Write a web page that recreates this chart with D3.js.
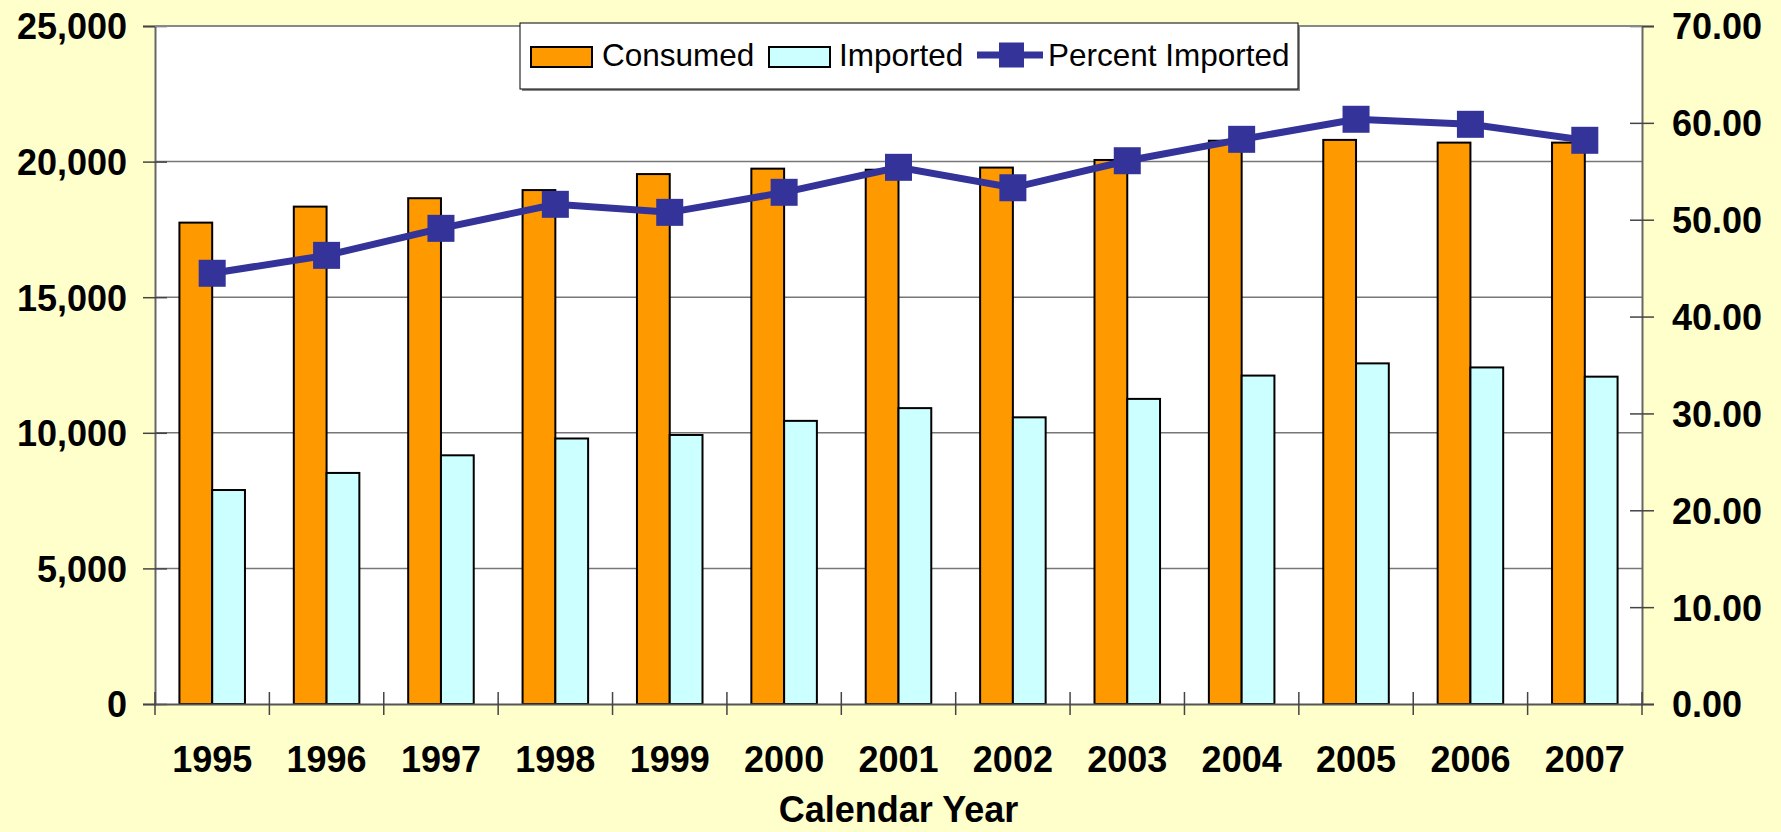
<!DOCTYPE html>
<html>
<head>
<meta charset="utf-8">
<script src="https://cdn.jsdelivr.net/npm/d3@7"></script>
<style>
  body { margin: 0; background: #FFFFCC; }
  svg { display: block; font-family: Arial, "Liberation Sans", sans-serif; }
</style>
</head>
<body>
<svg id="chart" width="1781" height="832"></svg>
<script>
// values
var years = ["1995", "1996", "1997", "1998", "1999", "2000", "2001", "2002", "2003", "2004", "2005", "2006", "2007"];
var consumed = [17750, 18340, 18650, 18950, 19540, 19740, 19700, 19780, 20060, 20770, 20800, 20700, 20700];
var imported = [7890, 8520, 9170, 9790, 9920, 10440, 10910, 10570, 11250, 12110, 12560, 12410, 12070];
var percentImported = [44.47, 46.32, 49.11, 51.59, 50.76, 52.83, 55.41, 53.30, 56.09, 58.30, 60.37, 59.85, 58.20];
var leftTicks = [0, 5000, 10000, 15000, 20000, 25000];
var rightTicks = [0, 10, 20, 30, 40, 50, 60, 70];
var seriesNames = ["Consumed", "Imported"];
var seriesColors = ["#FF9900", "#CCFFFF"];
var lineColor = "#333399";

(function() {
  var margin = { top: 26, right: 139, bottom: 128, left: 155 };
  var width = 1781 - margin.left - margin.right;
  var height = 832 - margin.top - margin.bottom;

  var svg = d3.select("#chart");
  var g = svg.append("g")
    .attr("transform", "translate(" + margin.left + "," + margin.top + ")");

  var x0 = d3.scaleBand()
    .domain(years)
    .range([0, width])
    .paddingInner(0.427)
    .paddingOuter(0.2135);
  var x1 = d3.scaleBand()
    .domain(seriesNames)
    .range([0, x0.bandwidth()]);
  var y = d3.scaleLinear().domain([0, 25000]).range([height, 0]);
  var y2 = d3.scaleLinear().domain([0, 70]).range([height, 0]);

  // plot area
  g.append("rect")
    .attr("width", width)
    .attr("height", height)
    .attr("fill", "#fff");

  // gridlines
  g.append("g")
    .selectAll("line")
    .data(leftTicks.slice(1))
    .enter().append("line")
    .attr("x1", 0)
    .attr("x2", width)
    .attr("y1", function(d) { return y(d); })
    .attr("y2", function(d) { return y(d); })
    .attr("stroke", "#777")
    .attr("stroke-width", 1.5);

  // bars
  var rows = years.map(function(yr, i) {
    return { year: yr, values: [consumed[i], imported[i]] };
  });
  var groups = g.append("g").selectAll("g")
    .data(rows)
    .enter().append("g")
    .attr("transform", function(d) { return "translate(" + x0(d.year) + ",0)"; });
  groups.selectAll("rect")
    .data(function(d) {
      return d.values.map(function(v, k) { return { key: seriesNames[k], value: v, k: k }; });
    })
    .enter().append("rect")
    .attr("x", function(d) { return x1(d.key); })
    .attr("y", function(d) { return y(d.value); })
    .attr("width", x1.bandwidth())
    .attr("height", function(d) { return height - y(d.value); })
    .attr("fill", function(d) { return seriesColors[d.k]; })
    .attr("stroke", "#000")
    .attr("stroke-width", 2);

  // left axis
  var leftAxis = g.append("g")
    .call(d3.axisLeft(y).tickValues(leftTicks).tickFormat(d3.format(",")).tickSizeOuter(0).tickSize(12).tickPadding(16));
  leftAxis.select(".domain").attr("stroke", "#666").attr("stroke-width", 2);
  leftAxis.selectAll(".tick line").attr("x1", 12).attr("x2", -12).attr("stroke", "#444").attr("stroke-width", 1.5);
  leftAxis.selectAll(".tick text")
    .attr("x", -28)
    .attr("dy", "0.36em")
    .style("font-size", "36px")
    .style("font-weight", "bold")
    .attr("fill", "#000");

  // right axis
  var rightAxis = g.append("g")
    .attr("transform", "translate(" + width + ",0)")
    .call(d3.axisRight(y2).tickValues(rightTicks).tickFormat(d3.format(".2f")).tickSizeOuter(0).tickSize(12));
  rightAxis.select(".domain").attr("stroke", "#666").attr("stroke-width", 2);
  rightAxis.selectAll(".tick line").attr("x1", -12).attr("x2", 12).attr("stroke", "#444").attr("stroke-width", 1.5);
  rightAxis.selectAll(".tick text")
    .attr("x", 30)
    .attr("dy", "0.36em")
    .style("font-size", "36px")
    .style("font-weight", "bold")
    .attr("fill", "#000");

  // top border
  g.append("line")
    .attr("x1", 0).attr("x2", width)
    .attr("y1", 0).attr("y2", 0)
    .attr("stroke", "#888")
    .attr("stroke-width", 2);

  // bottom axis
  var bottomAxis = g.append("g")
    .attr("transform", "translate(0," + height + ")")
    .call(d3.axisBottom(x0).tickSize(0).tickSizeOuter(0));
  bottomAxis.select(".domain").attr("stroke", "#555").attr("stroke-width", 2);
  bottomAxis.selectAll(".tick text")
    .attr("y", 68)
    .attr("dy", 0)
    .style("font-size", "36px")
    .style("font-weight", "bold")
    .attr("fill", "#000");

  var half = (x0.step() - x0.bandwidth()) / 2;
  var bounds = years.map(function(d) { return x0(d) - half; }).concat([width]);
  bottomAxis.selectAll(".sep")
    .data(bounds)
    .enter().append("line")
    .attr("class", "sep")
    .attr("x1", function(d) { return d; })
    .attr("x2", function(d) { return d; })
    .attr("y1", -12)
    .attr("y2", 11)
    .attr("stroke", "#444")
    .attr("stroke-width", 1.5);

  g.append("text")
    .attr("x", width / 2)
    .attr("y", height + 118)
    .attr("text-anchor", "middle")
    .style("font-size", "36px")
    .style("font-weight", "bold")
    .text("Calendar Year");

  // percent line
  var line = d3.line()
    .x(function(d, i) { return x0(years[i]) + x0.bandwidth() / 2; })
    .y(function(d) { return y2(d); });
  g.append("path")
    .datum(percentImported)
    .attr("d", line)
    .attr("fill", "none")
    .attr("stroke", lineColor)
    .attr("stroke-width", 7);
  var mk = 27;
  g.append("g").selectAll("rect")
    .data(percentImported)
    .enter().append("rect")
    .attr("x", function(d, i) { return x0(years[i]) + x0.bandwidth() / 2 - mk / 2; })
    .attr("y", function(d) { return y2(d) - mk / 2; })
    .attr("width", mk)
    .attr("height", mk)
    .attr("fill", lineColor);

  // legend
  var legend = svg.append("g").attr("transform", "translate(520,23)");
  legend.append("rect")
    .attr("x", 2).attr("y", 2)
    .attr("width", 778).attr("height", 66)
    .attr("fill", "#888");
  legend.append("rect")
    .attr("width", 778).attr("height", 66)
    .attr("fill", "#fff")
    .attr("stroke", "#000")
    .attr("stroke-width", 1);

  var legendFont = "31.5px";
  legend.append("rect")
    .attr("x", 11).attr("y", 24).attr("width", 61).attr("height", 20)
    .attr("fill", seriesColors[0]).attr("stroke", "#000").attr("stroke-width", 2);
  legend.append("text")
    .attr("x", 82).attr("y", 43)
    .style("font-size", legendFont)
    .text("Consumed");
  legend.append("rect")
    .attr("x", 249).attr("y", 24).attr("width", 61).attr("height", 20)
    .attr("fill", seriesColors[1]).attr("stroke", "#000").attr("stroke-width", 2);
  legend.append("text")
    .attr("x", 319).attr("y", 43)
    .style("font-size", legendFont)
    .text("Imported");
  legend.append("line")
    .attr("x1", 457).attr("x2", 523)
    .attr("y1", 32).attr("y2", 32)
    .attr("stroke", lineColor).attr("stroke-width", 7);
  legend.append("rect")
    .attr("x", 479).attr("y", 19.5).attr("width", 25).attr("height", 25)
    .attr("fill", lineColor);
  legend.append("text")
    .attr("x", 528).attr("y", 43)
    .style("font-size", legendFont)
    .text("Percent Imported");
}());
</script>
</body>
</html>
